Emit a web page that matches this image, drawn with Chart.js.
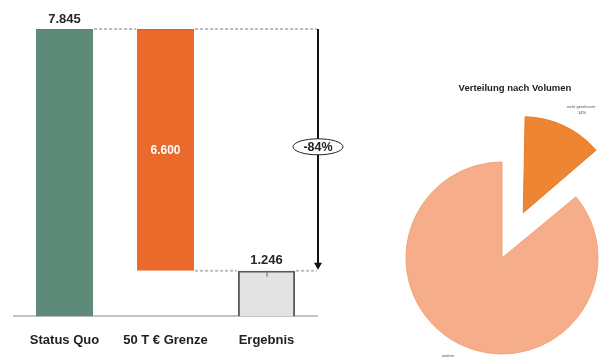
<!DOCTYPE html>
<html><head><meta charset="utf-8">
<script src="https://cdn.jsdelivr.net/npm/chart.js@4"></script>
<style>
html,body{margin:0;padding:0;background:#fff;overflow:hidden;width:602px;height:360px;}
#bar{position:absolute;left:0;top:0;}
#pie{position:absolute;left:342px;top:70px;}
</style></head><body>
<canvas id="bar" width="352" height="364"></canvas>
<canvas id="pie" width="320" height="376"></canvas>
<script>
const categories = ['Status Quo', '50 T € Grenze', 'Ergebnis'];
const barStart = [0, 1246, 0];
const barEnd = [7845, 7845, 1246];
const valueLabels = ['7.845', '6.600', '1.246'];
const changeLabel = '-84%';
const pieTitle = 'Verteilung nach Volumen';
const pieLabels = ['nicht gerelevant', 'andere'];
const pieValues = [14, 86];
const pieValueLabels = ['14%', '86%'];

const FONT = "'Liberation Sans', Arial, sans-serif";

const waterfallDeco = {
  id: 'waterfallDeco',
  afterDatasetsDraw(chart) {
    const ctx = chart.ctx;
    const ys = chart.scales.y;
    const bars = chart.getDatasetMeta(0).data;
    const ca = chart.chartArea;
    const arrowX = ca.right + 1;
    const yTop = ys.getPixelForValue(barEnd[0]);
    const yLow = ys.getPixelForValue(barStart[1]);
    const r = i => bars[i].x + bars[i].width / 2;
    const l = i => bars[i].x - bars[i].width / 2;
    ctx.save();
    ctx.strokeStyle = '#BDBDBD';
    ctx.lineWidth = 2;
    ctx.setLineDash([3, 2]);
    ctx.beginPath();
    ctx.moveTo(r(0) + 1, yTop); ctx.lineTo(l(1) - 1, yTop);
    ctx.moveTo(r(1) + 1, yTop); ctx.lineTo(arrowX - 1, yTop);
    ctx.moveTo(r(1) + 1, yLow); ctx.lineTo(l(2) - 1, yLow);
    ctx.moveTo(r(2) + 1, yLow); ctx.lineTo(arrowX - 1, yLow);
    ctx.stroke();
    ctx.setLineDash([]);
    const yEnd = ys.getPixelForValue(barEnd[2]);
    ctx.strokeStyle = '#111';
    ctx.lineWidth = 2;
    ctx.beginPath();
    ctx.moveTo(arrowX, yTop); ctx.lineTo(arrowX, yEnd - 6);
    ctx.stroke();
    ctx.fillStyle = '#111';
    ctx.beginPath();
    ctx.moveTo(arrowX - 4, yEnd - 8);
    ctx.lineTo(arrowX + 4, yEnd - 8);
    ctx.lineTo(arrowX, yEnd - 1);
    ctx.closePath();
    ctx.fill();
    const ey = ys.getPixelForValue(4630);
    ctx.fillStyle = '#fff';
    ctx.strokeStyle = '#222';
    ctx.lineWidth = 1;
    ctx.beginPath();
    ctx.ellipse(arrowX, ey, 25, 8, 0, 0, Math.PI * 2);
    ctx.fill(); ctx.stroke();
    ctx.fillStyle = '#222';
    ctx.font = 'bold 12.5px ' + FONT;
    ctx.textAlign = 'center';
    ctx.textBaseline = 'middle';
    ctx.fillText(changeLabel, arrowX, ey + 0.5);
    ctx.font = 'bold 13px ' + FONT;
    ctx.fillStyle = '#262626';
    ctx.fillText(valueLabels[0], bars[0].x, yTop - 10);
    ctx.fillText(valueLabels[2], bars[2].x, yEnd - 10);
    ctx.fillStyle = '#fff';
    ctx.font = 'bold 12px ' + FONT;
    ctx.fillText(valueLabels[1], bars[1].x, (yTop + yLow) / 2 + 1);
    ctx.strokeStyle = '#666';
    ctx.lineWidth = 1;
    ctx.beginPath();
    ctx.moveTo(bars[2].x + 0.5, yEnd); ctx.lineTo(bars[2].x + 0.5, yEnd + 6);
    ctx.stroke();
    ctx.restore();
  }
};

new Chart(document.getElementById('bar'), {
  type: 'bar',
  data: {
    labels: categories,
    datasets: [{
      data: categories.map((c, i) => [barStart[i], barEnd[i]]),
      backgroundColor: ['#5E8B79', '#E96A2A', '#E3E3E3'],
      borderColor: ['#557F6E', '#DC6124', '#5A5A5A'],
      borderWidth: [1, 1, 2],
      categoryPercentage: 1,
      barPercentage: 0.566
    }]
  },
  options: {
    responsive: false,
    animation: false,
    layout: { padding: { top: 10, bottom: 0, left: 14, right: 35 } },
    plugins: { legend: { display: false }, tooltip: { enabled: false } },
    scales: {
      y: { display: false, min: 0, max: 8365 },
      x: {
        grid: { display: false, drawTicks: false },
        border: { display: true, color: '#C2C2C2', width: 2 },
        ticks: { font: { family: FONT, weight: 'bold', size: 13 }, color: '#222', padding: 16 }
      }
    }
  },
  plugins: [waterfallDeco]
});

const pieDeco = {
  id: 'pieDeco',
  beforeDatasetsDraw(chart) {
    // keep exploded slice at the same radius as the rest of the pie
    const meta = chart.getDatasetMeta(0);
    const base = meta.controller.outerRadius;
    meta.data.forEach(el => {
      const off = (el.options.offset || 0) / 4;
      const circ = el.endAngle - el.startAngle;
      const fix = 1 - Math.sin(Math.min(Math.PI, circ));
      el.outerRadius = base - off * fix;
    });
  },
  afterDraw(chart) {
    const ctx = chart.ctx;
    ctx.save();
    ctx.textAlign = 'center';
    ctx.textBaseline = 'middle';
    ctx.fillStyle = '#222';
    ctx.font = 'bold 9.5px ' + FONT;
    ctx.fillText(pieTitle, 173, 18);
    ctx.font = '4px ' + FONT;
    ctx.fillStyle = '#555';
    ctx.fillText(pieLabels[0], 239, 37);
    ctx.fillStyle = '#334';
    ctx.fillText(pieValueLabels[0], 240, 43);
    ctx.fillStyle = '#555';
    ctx.fillText(pieLabels[1], 106, 286);
    ctx.restore();
  }
};

new Chart(document.getElementById('pie'), {
  type: 'pie',
  data: {
    labels: pieLabels,
    datasets: [{
      data: pieValues,
      backgroundColor: ['#EE8532', '#F5AE89'],
      borderColor: ['#E57B2A', '#F3A47B'],
      borderWidth: 1,
      offset: [200, 0],
      radius: 96
    }]
  },
  options: {
    responsive: false,
    animation: false,
    radius: 96,
    plugins: { legend: { display: false }, tooltip: { enabled: false } }
  },
  plugins: [pieDeco]
});
</script>
</body></html>
